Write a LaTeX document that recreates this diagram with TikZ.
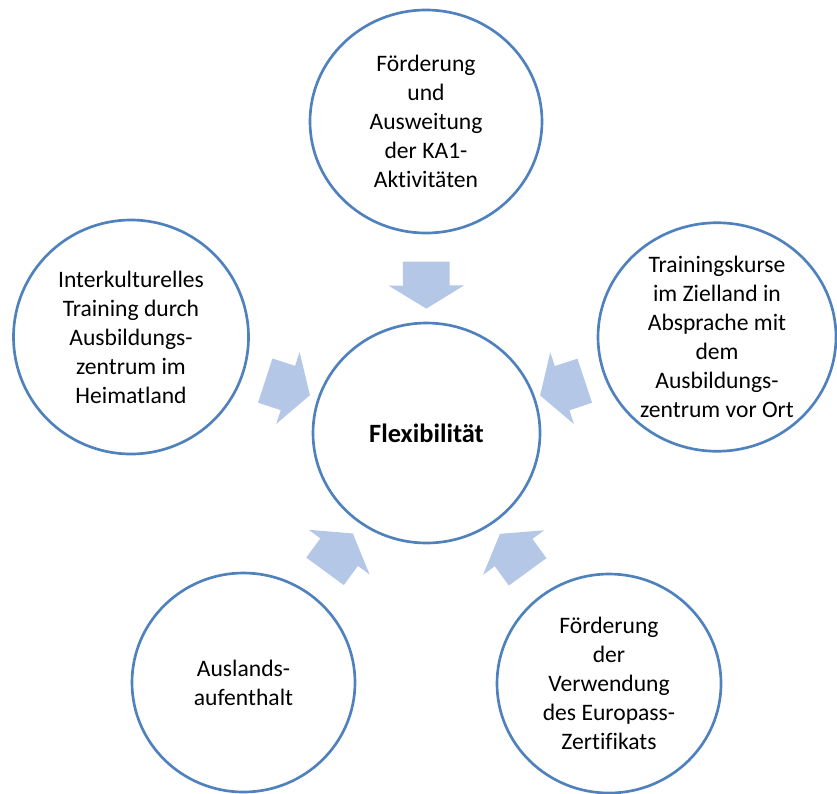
\documentclass[tikz,border=0pt]{standalone}
\usepackage{fontspec}
\setmainfont{Carlito}[Ligatures=CommonOff]
\usetikzlibrary{shapes.geometric,shapes.arrows}
\definecolor{ringblue}{HTML}{4F81BD}
\definecolor{arrowblue}{HTML}{B4C7E7}

\begin{document}
\begin{tikzpicture}[x=0.75pt,y=-0.75pt]
\tikzset{
  bubble/.style={ellipse,draw=ringblue,line width=2pt,align=center,inner sep=0pt,font=\fontsize{17.7}{21.75}\selectfont},
  flowarrow/.style={single arrow,fill=arrowblue,draw=none,sloped,allow upside down,inner xsep=0pt,inner ysep=17.25pt,
    single arrow head extend=10.9pt,single arrow tip angle=117,minimum height=35.25pt}
}
\useasboundingbox (0,0) rectangle (837,793);
% circles
\node[bubble,minimum width=170.25pt,minimum height=165pt,font=\fontsize{19.8}{24}\selectfont\bfseries] (n_hub) at (426.5,433) {Flexibilität};
\node[bubble,minimum width=174pt,minimum height=167.25pt] (n_ka1) at (426,121.5) {Förderung\\und\\Ausweitung\\der KA1-\\Aktivitäten};
\node[bubble,minimum width=176.25pt,minimum height=175.5pt] (n_home) at (131,337) {Interkulturelles\\Training durch\\Ausbildungs-\\zentrum im\\Heimatland};
\node[bubble,minimum width=178.5pt,minimum height=170.25pt] (n_target) at (717,337) {Trainingskurse\\im Zielland in\\Absprache mit\\dem\\Ausbildungs-\\zentrum vor Ort};
\node[bubble,minimum width=167.25pt,minimum height=164.25pt] (n_abroad) at (243.5,682.5) {Auslands-\\aufenthalt};
\node[bubble,minimum width=168pt,minimum height=164.25pt] (n_europass) at (609,683.5) {Förderung\\der\\Verwendung\\des Europass-\\Zertifikats};
% arrows towards the hub
\path (n_ka1) -- node[flowarrow] (a_ka1) {} (n_hub);
\path (n_home) -- node[flowarrow] (a_home) {} (n_hub);
\path (n_target) -- node[flowarrow] (a_target) {} (n_hub);
\path (n_abroad) -- node[flowarrow] (a_abroad) {} (n_hub);
\path (n_europass) -- node[flowarrow] (a_europass) {} (n_hub);
\end{tikzpicture}
\end{document}
